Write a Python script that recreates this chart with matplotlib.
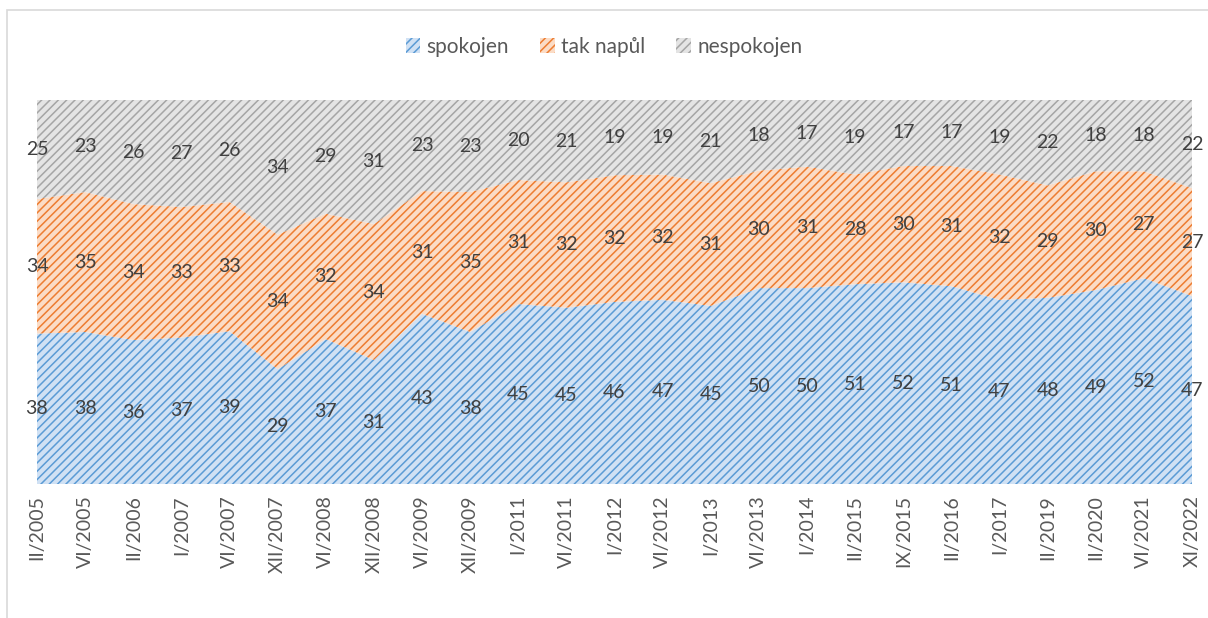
import numpy as np
import matplotlib.pyplot as plt
from matplotlib.patches import Patch, Rectangle

plt.rcParams["font.family"] = ["Lato", "DejaVu Sans"]
plt.rcParams["hatch.linewidth"] = 1.1

# -------------------------------
# DATA
# -------------------------------

periods = ["II/2005", "VI/2005", "II/2006", "I/2007", "VI/2007", "XII/2007",
           "VI/2008", "XII/2008", "VI/2009", "XII/2009", "I/2011", "VI/2011",
           "I/2012", "VI/2012", "I/2013", "VI/2013", "I/2014", "II/2015",
           "IX/2015", "II/2016", "I/2017", "II/2019", "II/2020", "VI/2021",
           "XI/2022"]
spokojen = [38, 38, 36, 37, 39, 29, 37, 31, 43, 38, 45, 45, 46, 47, 45,
            50, 50, 51, 52, 51, 47, 48, 49, 52, 47]
tak_napul = [34, 35, 34, 33, 33, 34, 32, 34, 31, 35, 31, 32, 32, 32, 31,
             30, 31, 28, 30, 31, 32, 29, 30, 27, 27]
nespokojen = [25, 23, 26, 27, 26, 34, 29, 31, 23, 23, 20, 21, 19, 19, 21,
              18, 17, 19, 17, 17, 19, 22, 18, 18, 22]

series = [("spokojen", spokojen, "#d0e1f4", "#5b9bd5"),
          ("tak napůl", tak_napul, "#fbdcc6", "#ed7d31"),
          ("nespokojen", nespokojen, "#e4e4e4", "#a5a5a5")]

# -------------------------------
# FIGURE
# -------------------------------

fig = plt.figure(figsize=(12.08, 6.18), dpi=100)
ax = fig.add_axes([37 / 1208, 1 - 484 / 618, (1192 - 37) / 1208, (484 - 100) / 618])

x = np.arange(len(periods))
totals = np.array(spokojen) + np.array(tak_napul) + np.array(nespokojen)
bottom = np.zeros(len(periods))

handles = []
for name, vals, face, hatch_col in series:
    share = np.array(vals) / totals * 100
    top = bottom + share
    ax.fill_between(x, bottom, top, facecolor=face, edgecolor=hatch_col,
                    hatch="////", linewidth=0)
    for xi, b, t, v in zip(x, bottom, top, vals):
        ax.text(xi, (b + t) / 2, str(v), ha="center", va="center",
                fontsize=14, color="#404040", clip_on=False)
    handles.append(Patch(facecolor=face, edgecolor=hatch_col, hatch="////",
                         linewidth=0, label=name))
    bottom = top

ax.set_xlim(0, len(periods) - 1)
ax.set_ylim(0, 100)
ax.set_yticks([])
ax.set_xticks(x)
ax.set_xticklabels(periods, rotation=90, fontsize=14, color="#595959")
ax.tick_params(axis="x", length=0, pad=8)
for s in ax.spines.values():
    s.set_visible(False)

fig.legend(handles=handles, loc="center", bbox_to_anchor=(0.5, 1 - 47 / 618),
           ncol=3, frameon=False, fontsize=15, labelcolor="#595959",
           handlelength=0.7, handleheight=0.7, handletextpad=0.3,
           columnspacing=1.5)

# outer chart frame
fig.patches.append(Rectangle((7 / 1208, -0.05), 1.1, 1 - 10 / 618 + 0.05,
                             transform=fig.transFigure, fill=False,
                             edgecolor="#d9d9d9", linewidth=1.2))

fig.savefig("out.png", dpi=100)
